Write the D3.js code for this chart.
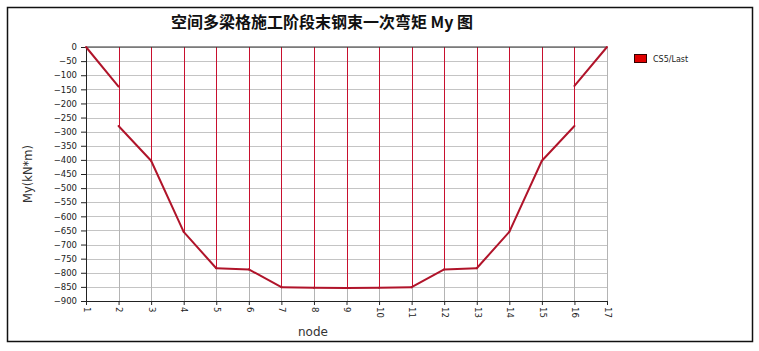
<!DOCTYPE html>
<html>
<head>
<meta charset="utf-8">
<script src="https://cdn.jsdelivr.net/npm/d3@7"></script>
<style>
  body { margin: 0; background: #fff; }
  svg { display: block; }
  text { font-family: Tahoma, "DejaVu Sans", sans-serif; }
</style>
</head>
<body>
<svg id="chart" width="759" height="351"></svg>
<script>
// Node numbers along the girder
const nodes = [1, 2, 3, 4, 5, 6, 7, 8, 9, 10, 11, 12, 13, 14, 15, 16, 17];
// Element moment values My (kN*m): i-end and j-end of each element (elem k runs node k -> k+1)
const elemI = [0, -280, -403, -655, -784, -788, -851, -853, -854, -853, -851, -788, -784, -655, -403, -138];
const elemJ = [-140, -403, -655, -784, -788, -851, -853, -854, -853, -851, -788, -784, -655, -403, -280, 0];
// Y axis ticks
const yTicks = d3.range(0, -901, -50);

const title = "空间多梁格施工阶段末钢束一次弯矩 My 图";
const seriesName = "CS5/Last";

const svg = d3.select('#chart');

// Outer frame
svg.append('rect')
    .attr('x', 7.5).attr('y', 7.5)
    .attr('width', 745).attr('height', 334)
    .attr('fill', 'none')
    .attr('stroke', '#111')
    .attr('stroke-width', 1.5);

const x = d3.scaleLinear().domain([1, 17]).range([86, 607]);
const y = d3.scaleLinear().domain([0, -900]).range([47, 301]);

// Horizontal grid
svg.append('g').selectAll('line')
    .data(yTicks)
    .join('line')
    .attr('x1', x(1)).attr('x2', x(17))
    .attr('y1', d => Math.round(y(d)) + 0.5).attr('y2', d => Math.round(y(d)) + 0.5)
    .attr('stroke', '#c4c4c4')
    .attr('stroke-width', 1);

// Vertical grid
svg.append('g').selectAll('line')
    .data(nodes)
    .join('line')
    .attr('x1', d => Math.round(x(d)) + 0.5).attr('x2', d => Math.round(x(d)) + 0.5)
    .attr('y1', y(0)).attr('y2', y(-900))
    .attr('stroke', '#b4b4b4')
    .attr('stroke-width', 1);

// Red hatch lines from 0 down to the lowest value at each node
const nodeMin = nodes.map((n, i) => {
    const vals = [];
    if (i > 0) vals.push(elemJ[i - 1]);
    if (i < elemI.length) vals.push(elemI[i]);
    return { n: n, v: d3.min(vals) };
});
svg.append('g').selectAll('line')
    .data(nodeMin.filter(d => d.v < 0))
    .join('line')
    .attr('x1', d => Math.round(x(d.n)) + 0.5).attr('x2', d => Math.round(x(d.n)) + 0.5)
    .attr('y1', y(0)).attr('y2', d => y(d.v))
    .attr('stroke', '#c8102e')
    .attr('stroke-width', 1);

// Top zero line
svg.append('line')
    .attr('x1', x(1)).attr('x2', x(17))
    .attr('y1', y(0)).attr('y2', y(0))
    .attr('stroke', '#333')
    .attr('stroke-width', 1.2);

// Axes
const yAxis = d3.axisLeft(y).tickValues(yTicks).tickSize(5).tickPadding(4);
const gy = svg.append('g').attr('transform', `translate(${x(1)},0)`).call(yAxis);
gy.select('.domain').attr('stroke', '#222');
gy.selectAll('.tick line').attr('stroke', '#222');
gy.selectAll('text').attr('font-size', 8.5).attr('fill', '#222');

const xAxis = d3.axisBottom(x).tickValues(nodes).tickFormat(d3.format('d')).tickSize(4).tickPadding(3);
const gx = svg.append('g').attr('transform', `translate(0,${y(-900)})`).call(xAxis);
gx.select('.domain').attr('stroke', '#222');
gx.selectAll('.tick line').attr('stroke', '#222');
gx.selectAll('text')
    .attr('font-size', 8.5).attr('fill', '#222')
    .attr('transform', 'rotate(90)')
    .attr('text-anchor', 'start')
    .attr('x', 6).attr('y', 0).attr('dy', '0.32em');

// Moment curve, one segment per element
const segs = elemI.map((v, i) => [[nodes[i], v], [nodes[i + 1], elemJ[i]]]);
const line = d3.line().x(d => x(d[0])).y(d => y(d[1]));
svg.append('g').selectAll('path')
    .data(segs)
    .join('path')
    .attr('d', line)
    .attr('fill', 'none')
    .attr('stroke', '#b0142a')
    .attr('stroke-width', 2)
    .attr('stroke-linecap', 'round');

// Title
svg.append('text')
    .attr('x', 322).attr('y', 28)
    .attr('text-anchor', 'middle')
    .attr('font-size', 16)
    .attr('font-weight', 'bold')
    .style('font-family', '"Noto Sans CJK SC", sans-serif')
    .attr('fill', '#111')
    .text(title);

// Axis titles
svg.append('text')
    .attr('transform', 'translate(32,174) rotate(-90)')
    .attr('text-anchor', 'middle')
    .attr('font-size', 11.5)
    .attr('fill', '#333')
    .text('My(kN*m)');

svg.append('text')
    .attr('x', 313).attr('y', 336)
    .attr('text-anchor', 'middle')
    .attr('font-size', 12)
    .attr('fill', '#333')
    .text('node');

// Legend
svg.append('rect')
    .attr('x', 634.5).attr('y', 54.5)
    .attr('width', 12).attr('height', 8)
    .attr('fill', '#e00000')
    .attr('stroke', '#300')
    .attr('stroke-width', 1);
svg.append('text')
    .attr('x', 653).attr('y', 61.5)
    .attr('font-size', 8)
    .attr('fill', '#222')
    .text(seriesName);
</script>
</body>
</html>
